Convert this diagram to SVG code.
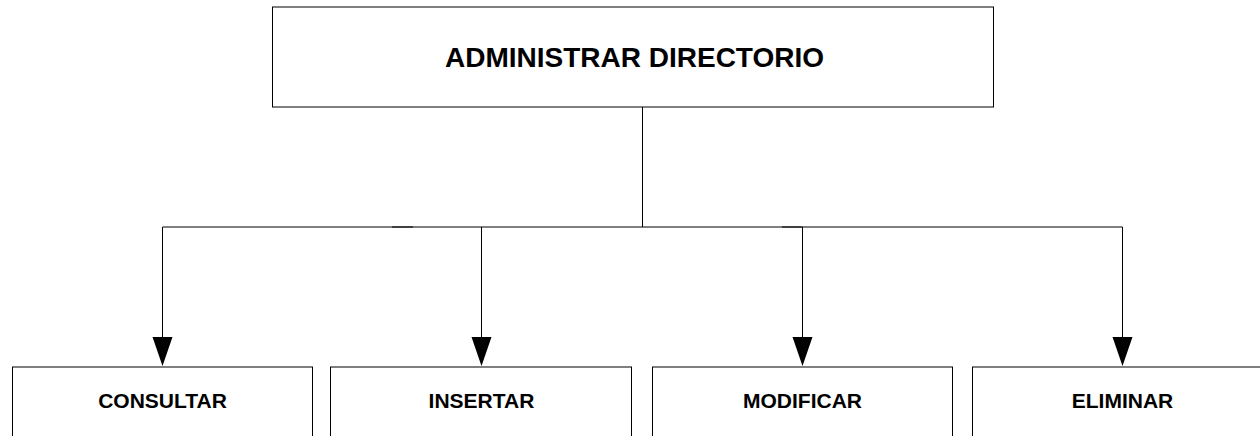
<svg xmlns="http://www.w3.org/2000/svg" width="1260" height="436" viewBox="0 0 1260 436">
<style>
.box{fill:#fff;stroke:#000;stroke-width:1}
.ln{fill:none;stroke:#000;stroke-width:1}
.ah{fill:#000;stroke:none}
.t{font-family:"Liberation Sans",Arial,sans-serif;font-weight:bold;fill:#000;text-anchor:middle}
</style>
<rect width="1260" height="436" fill="#fff"/>
<g id="connectors">
<path class="ln" d="M642.5 107 V227"/>
<path class="ln" d="M162.5 227 H413"/>
<path class="ln" d="M392 227 H802.5"/>
<path class="ln" d="M782 227 H1122.5"/>
<path class="ln" d="M162.5 227 V338"/>
<path class="ln" d="M481.5 227 V338"/>
<path class="ln" d="M802.5 227 V338"/>
<path class="ln" d="M1122.5 227 V338"/>
<polygon class="ah" points="152.5,337 172.5,337 162.5,366"/>
<polygon class="ah" points="471.5,337 491.5,337 481.5,366"/>
<polygon class="ah" points="792.5,337 812.5,337 802.5,366"/>
<polygon class="ah" points="1112.5,337 1132.5,337 1122.5,366"/>
</g>
<g id="node-admin">
<rect class="box" x="272.5" y="7" width="721" height="100"/>
<text class="t" x="634.5" y="67" font-size="28">ADMINISTRAR DIRECTORIO</text>
</g>
<g id="node-consultar">
<rect class="box" x="12.5" y="367" width="300" height="100"/>
<text class="t" x="162.5" y="407.5" font-size="21">CONSULTAR</text>
</g>
<g id="node-insertar">
<rect class="box" x="330.5" y="367" width="301" height="100"/>
<text class="t" x="481.5" y="407.5" font-size="21">INSERTAR</text>
</g>
<g id="node-modificar">
<rect class="box" x="652.5" y="367" width="300" height="100"/>
<text class="t" x="802.5" y="407.5" font-size="21">MODIFICAR</text>
</g>
<g id="node-eliminar">
<rect class="box" x="972.5" y="367" width="300" height="100"/>
<text class="t" x="1122.5" y="407.5" font-size="21">ELIMINAR</text>
</g>
</svg>
